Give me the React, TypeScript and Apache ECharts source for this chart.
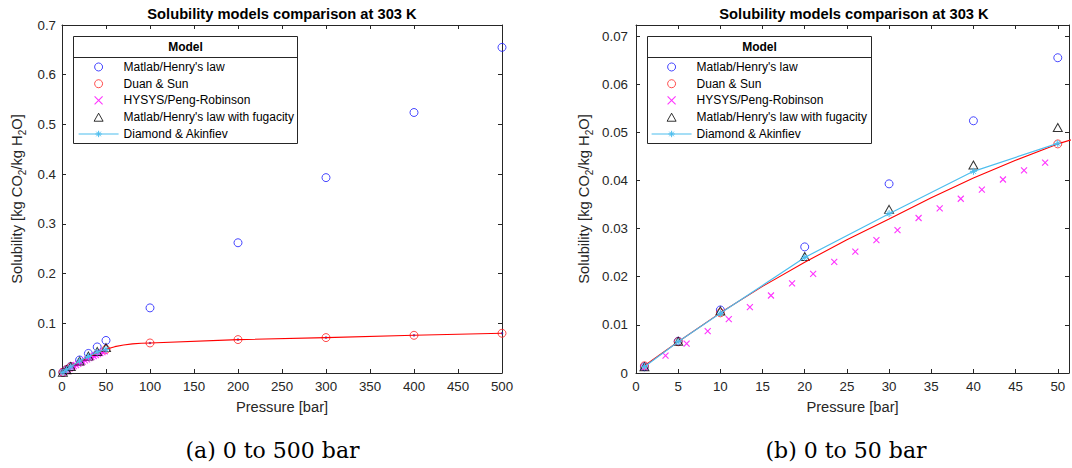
import React, { useEffect, useRef } from "react";
import * as echarts from "echarts";

// CO2 solubility in water at 303 K, pressure in bar, solubility in kg CO2 / kg H2O
const henryPressure = [1, 5, 10, 20, 30, 40, 50, 100, 200, 300, 400, 500];
const henrySolubility = [0.0013, 0.0066, 0.0131, 0.0262, 0.0393, 0.0524, 0.0655, 0.131, 0.262, 0.393, 0.524, 0.655];

const duanPressure = [1, 5, 10, 50, 100, 200, 300, 400, 500];
const duanSolubility = [0.0015, 0.0065, 0.0125, 0.0476, 0.0604, 0.0672, 0.0712, 0.0758, 0.0799];

const duanCurvePressure = [1, 5, 10, 15, 20, 25, 30, 35, 40, 45, 50, 60, 70, 80, 90, 100, 200, 300, 400, 500];
const duanCurveSolubility = [
  0.0015, 0.0065, 0.0125, 0.018, 0.023, 0.0277, 0.032, 0.0364, 0.0405, 0.0442, 0.0476,
  0.053, 0.0563, 0.0585, 0.0597, 0.0604, 0.0672, 0.0712, 0.0758, 0.0799,
];

const hysysPressure = [1, 3.5, 6, 8.5, 11, 13.5, 16, 18.5, 21, 23.5, 26, 28.5, 31, 33.5, 36, 38.5, 41, 43.5, 46, 48.5];
const hysysSolubility = [
  0.0011, 0.0036, 0.0061, 0.0087, 0.0112, 0.0137, 0.0161, 0.0186, 0.0206, 0.0231,
  0.0252, 0.0276, 0.0297, 0.0322, 0.0342, 0.0362, 0.0381, 0.0402, 0.0421, 0.0437,
];

const fugacityPressure = [1, 5, 10, 20, 30, 40, 50];
const fugacitySolubility = [0.0013, 0.0066, 0.0129, 0.0242, 0.034, 0.0432, 0.051];

const diamondPressure = [1, 5, 10, 20, 30, 40, 50];
const diamondSolubility = [0.0013, 0.0065, 0.0124, 0.024, 0.0331, 0.0419, 0.0477];

const modelNames = [
  "Matlab/Henry's law",
  "Duan & Sun",
  "HYSYS/Peng-Robinson",
  "Matlab/Henry's law with fugacity",
  "Diamond & Akinfiev",
];

const titleText = "Solubility models comparison at 303 K";
const captions = ["(a) 0 to 500 bar", "(b) 0 to 50 bar"];

const SANS = "'Liberation Sans', Arial, Helvetica, sans-serif";
const SERIF = "'DejaVu Serif', 'Liberation Serif', serif";
const AXIS_COLOR = "#262626";
const CLEAR = "rgba(0,0,0,0)";

const BLUE = "#1a1aff";
const RED = "#ff2020";
const MAGENTA = "#ff00ff";
const CYAN = "#4dbeee";

const CROSS = "path://M-3,-3L3,3M-3,3L3,-3";
const TRIANGLE = "path://M0,-4L4.5,4L-4.5,4Z";
const STAR = "path://M0,-4L0,4M-4,0L4,0M-2.83,-2.83L2.83,2.83M-2.83,2.83L2.83,-2.83";

const pairs = (xs: number[], ys: number[]) => xs.map((x, i) => [x, ys[i]]);

// Plot rectangles of the two panels (pixels)
const panels = [
  { left: 62, top: 25, width: 440, height: 348, xMax: 500, xStep: 50, yMax: 0.7, yStep: 0.1, yDigits: 1 },
  { left: 636, top: 25, width: 436, height: 348, xMax: 51.33, xStep: 5, yMax: 0.0723, yStep: 0.01, yDigits: 2 },
];

const onStep = (v: number, step: number) => Math.abs(v / step - Math.round(v / step)) < 1e-6;

function buildAxes(p: (typeof panels)[number], gridIndex: number) {
  const line = { show: true, onZero: false, lineStyle: { color: AXIS_COLOR, width: 1 } };
  const tick = { show: true, inside: true, length: 4, lineStyle: { color: AXIS_COLOR, width: 1 } };
  const labelStyle = { color: AXIS_COLOR, fontSize: 13.3, fontFamily: SANS };
  const xBase = { type: "value", gridIndex, min: 0, max: p.xMax, interval: p.xStep, splitLine: { show: false }, axisLine: line, axisTick: tick };
  const yBase = { type: "value", gridIndex, min: 0, max: p.yMax, interval: p.yStep, splitLine: { show: false }, axisLine: line, axisTick: tick };
  const xAxes = [
    {
      ...xBase,
      position: "bottom",
      name: "Pressure [bar]",
      nameLocation: "middle",
      nameGap: 26,
      nameTextStyle: { color: AXIS_COLOR, fontSize: 14.7, fontFamily: SANS },
      axisLabel: {
        ...labelStyle,
        margin: 7,
        formatter: (v: number) => (onStep(v, p.xStep) ? String(Math.round(v)) : ""),
      },
    },
    { ...xBase, position: "top", axisLabel: { show: false } },
  ];
  const yAxes = [
    {
      ...yBase,
      position: "left",
      name: "{n|Solubility [kg CO}{s|2}{n|/kg H}{s|2}{n|O]}",
      nameLocation: "middle",
      nameGap: gridIndex === 0 ? 35 : 42,
      nameTextStyle: {
        rich: {
          n: { fontSize: 14.7, lineHeight: 18, verticalAlign: "top", color: AXIS_COLOR, fontFamily: SANS },
          s: { fontSize: 10, lineHeight: 8, verticalAlign: "bottom", color: AXIS_COLOR, fontFamily: SANS },
        },
      },
      axisLabel: {
        ...labelStyle,
        margin: gridIndex === 0 ? 6 : 8,
        formatter: (v: number) => (onStep(v, p.yStep) ? String(Number(v.toFixed(p.yDigits))) : ""),
      },
    },
    { ...yBase, position: "right", axisLabel: { show: false } },
  ];
  return { xAxes, yAxes };
}

function buildSeries(axisIndex: number) {
  const axes = { xAxisIndex: axisIndex, yAxisIndex: axisIndex };
  return [
    {
      ...axes,
      type: "scatter",
      name: modelNames[0],
      data: pairs(henryPressure, henrySolubility),
      symbol: "circle",
      symbolSize: 8,
      itemStyle: { color: CLEAR, borderColor: BLUE, borderWidth: 1 },
    },
    {
      ...axes,
      type: "line",
      name: "Duan & Sun curve",
      data: pairs(duanCurvePressure, duanCurveSolubility),
      symbol: "none",
      lineStyle: { color: "#ff0000", width: 1.1 },
      itemStyle: { color: "#ff0000" },
    },
    {
      ...axes,
      type: "scatter",
      name: modelNames[1],
      data: pairs(duanPressure, duanSolubility),
      symbol: "circle",
      symbolSize: 8,
      itemStyle: { color: CLEAR, borderColor: RED, borderWidth: 1 },
    },
    {
      ...axes,
      type: "scatter",
      name: modelNames[2],
      data: pairs(hysysPressure, hysysSolubility),
      symbol: CROSS,
      symbolSize: 6,
      itemStyle: { color: CLEAR, borderColor: MAGENTA, borderWidth: 1.1 },
    },
    {
      ...axes,
      type: "scatter",
      name: modelNames[3],
      data: pairs(fugacityPressure, fugacitySolubility),
      symbol: TRIANGLE,
      symbolSize: [9, 8],
      itemStyle: { color: CLEAR, borderColor: "#000000", borderWidth: 1 },
    },
    {
      ...axes,
      type: "line",
      name: modelNames[4],
      data: pairs(diamondPressure, diamondSolubility),
      symbol: STAR,
      symbolSize: 7,
      showAllSymbol: true,
      lineStyle: { color: CYAN, width: 1.2 },
      itemStyle: { color: CYAN, borderColor: CYAN, borderWidth: 1 },
    },
    {
      ...axes,
      type: "scatter",
      name: "Duan & Sun points",
      data: pairs(duanPressure, duanSolubility),
      symbol: "circle",
      symbolSize: 2.5,
      itemStyle: { color: "#2020cc" },
    },
  ];
}

function legendBox(x: number) {
  return [
    {
      type: "rect",
      z: 3,
      shape: { x: x + 0.5, y: 36.5, width: 224, height: 107 },
      style: { fill: "#ffffff", stroke: AXIS_COLOR, lineWidth: 1 },
    },
    {
      type: "line",
      z: 3,
      shape: { x1: x + 0.5, y1: 57.5, x2: x + 224.5, y2: 57.5 },
      style: { stroke: AXIS_COLOR, lineWidth: 1 },
    },
    {
      type: "text",
      z: 3,
      x: x + 112.5,
      y: 47,
      style: { text: "Model", fontSize: 12, fontWeight: "bold", fontFamily: SANS, fill: "#000", align: "center", verticalAlign: "middle" },
    },
  ];
}

function legend(left: number) {
  return {
    left,
    top: 58.6,
    z: 10,
    orient: "vertical",
    padding: 0,
    itemWidth: 40,
    itemHeight: 8,
    itemGap: 0,
    selectedMode: false,
    symbolKeepAspect: true,
    data: [
      { name: modelNames[0], icon: "circle", itemStyle: { color: CLEAR, borderColor: BLUE, borderWidth: 1 } },
      { name: modelNames[1], icon: "circle", itemStyle: { color: CLEAR, borderColor: RED, borderWidth: 1 } },
      { name: modelNames[2], icon: CROSS, itemStyle: { color: CLEAR, borderColor: MAGENTA, borderWidth: 1.1 } },
      { name: modelNames[3], icon: TRIANGLE, itemStyle: { color: CLEAR, borderColor: "#000000", borderWidth: 1 } },
      { name: modelNames[4] },
    ],
    textStyle: { fontSize: 12, lineHeight: 16.75, color: "#000", fontFamily: SANS },
    itemStyle: { borderWidth: 1 },
    lineStyle: { width: 1.2 },
  };
}

export default function App() {
  const ref = useRef<HTMLDivElement>(null);

  useEffect(() => {
    if (!ref.current) return;
    const chart = echarts.init(ref.current, undefined, { renderer: "svg" });
    const a = buildAxes(panels[0], 0);
    const b = buildAxes(panels[1], 1);
    chart.setOption({
      animation: false,
      backgroundColor: "#ffffff",
      title: panels.map((p) => ({
        text: titleText,
        left: p.left + p.width / 2,
        top: 6,
        padding: 0,
        textAlign: "center",
        textStyle: { fontSize: 14.7, fontWeight: "bold", color: "#000", fontFamily: SANS },
      })),
      grid: panels.map((p) => ({ left: p.left, top: p.top, width: p.width, height: p.height, containLabel: false })),
      xAxis: [...a.xAxes, ...b.xAxes],
      yAxis: [...a.yAxes, ...b.yAxes],
      legend: [legend(78), legend(651)],
      series: [...buildSeries(0), ...buildSeries(2)],
      graphic: {
        elements: [
          ...legendBox(73),
          ...legendBox(647),
          {
            type: "text",
            x: 272.5,
            y: 450,
            style: { text: captions[0], fontSize: 22, fontFamily: SERIF, fill: "#000", align: "center", verticalAlign: "middle" },
          },
          {
            type: "text",
            x: 846,
            y: 450,
            style: { text: captions[1], fontSize: 22, fontFamily: SERIF, fill: "#000", align: "center", verticalAlign: "middle" },
          },
        ],
      },
    });
    return () => chart.dispose();
  }, []);

  return (
    <div
      ref={ref}
      style={{ position: "absolute", left: 0, top: 0, width: 1072, height: 468, background: "#ffffff" }}
    />
  );
}
